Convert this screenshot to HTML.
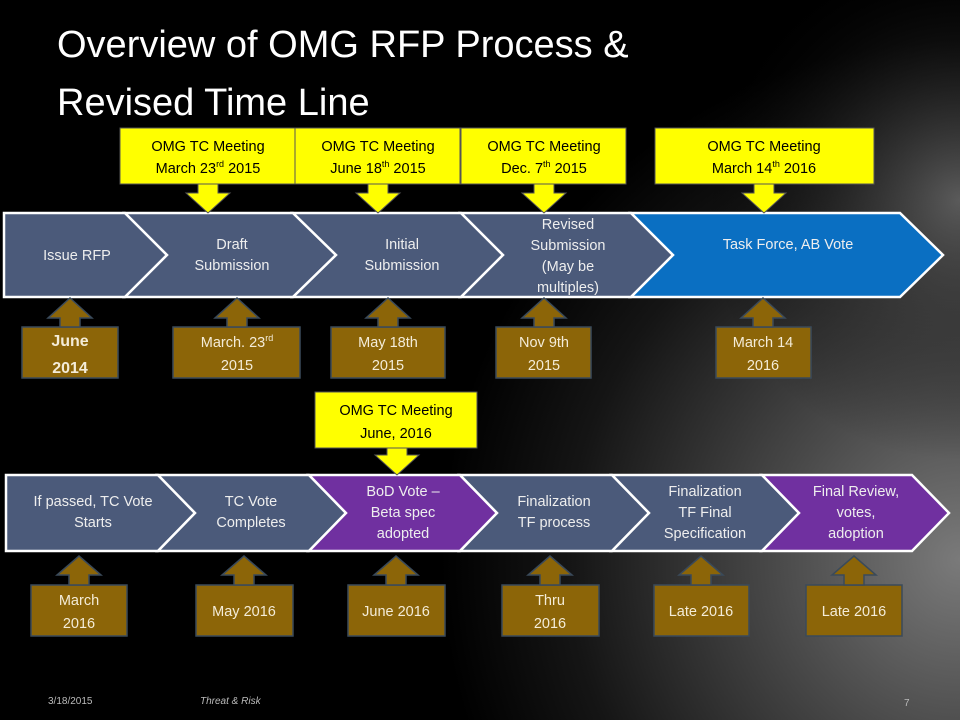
<!DOCTYPE html>
<html><head><meta charset="utf-8"><style>
html,body{margin:0;padding:0;background:#000;}
svg{display:block;font-family:"Liberation Sans",sans-serif;}
</style></head><body>
<svg width="960" height="720" viewBox="0 0 960 720" xmlns="http://www.w3.org/2000/svg">
<defs>
<radialGradient id="g1" cx="960" cy="560" r="520" gradientUnits="userSpaceOnUse">
<stop offset="0" stop-color="#7a7a7a"/><stop offset="0.35" stop-color="#4a4a4a"/><stop offset="0.75" stop-color="#151515"/><stop offset="1" stop-color="#000"/>
</radialGradient>
<radialGradient id="g3" cx="960" cy="200" r="260" gradientUnits="userSpaceOnUse">
<stop offset="0" stop-color="#6a6a6a" stop-opacity="0.8"/><stop offset="1" stop-color="#000" stop-opacity="0"/>
</radialGradient>
</defs>
<rect width="960" height="720" fill="url(#g1)"/>
<rect width="960" height="720" fill="url(#g3)"/>

<g fill="#fff" font-size="38">
<text x="57" y="57">Overview of OMG RFP Process &amp;</text>
<text x="57" y="115">Revised Time Line</text>
</g>

<!-- top band -->
<g stroke="#fff" stroke-width="2.5">
<polygon points="4,213 125,213 167,255 125,297 4,297" fill="#4b5a7a"/>
<polygon points="125,213 293,213 336,255 293,297 125,297 167,255" fill="#4b5a7a"/>
<polygon points="293,213 461,213 503,255 461,297 293,297 336,255" fill="#4b5a7a"/>
<polygon points="461,213 631,213 673,255 631,297 461,297 503,255" fill="#4b5a7a"/>
<polygon points="631,213 900,213 943,255 900,297 631,297 673,255" fill="#0a6fc2"/>
</g>
<g fill="#eee" font-size="14.5" text-anchor="middle">
<text x="77" y="260">Issue RFP</text>
<text x="232" y="249">Draft</text><text x="232" y="270">Submission</text>
<text x="402" y="249">Initial</text><text x="402" y="270">Submission</text>
<text x="568" y="229">Revised</text><text x="568" y="250">Submission</text><text x="568" y="271">(May be</text><text x="568" y="292">multiples)</text>
<text x="788" y="249">Task Force, AB Vote</text>
</g>

<!-- yellow top -->
<g fill="#ffff00" stroke="#555" stroke-width="1">
<rect x="120" y="128" width="175" height="56"/>
<rect x="295" y="128" width="165" height="56"/>
<rect x="461" y="128" width="165" height="56"/>
<rect x="655" y="128" width="219" height="56"/>
<polygon points="198,184 218,184 218,193 230,193 208,213 186,193 198,193"/>
<polygon points="368,184 388,184 388,193 400,193 378,213 356,193 368,193"/>
<polygon points="534,184 554,184 554,193 566,193 544,213 522,193 534,193"/>
<polygon points="754,184 774,184 774,193 786,193 764,213 742,193 754,193"/>
</g>
<g fill="#000" font-size="14.5" text-anchor="middle">
<text x="208" y="151">OMG TC Meeting</text><text x="208" y="173">March 23<tspan font-size="9" dy="-6">rd</tspan><tspan dy="6"> 2015</tspan></text>
<text x="378" y="151">OMG TC Meeting</text><text x="378" y="173">June 18<tspan font-size="9" dy="-6">th</tspan><tspan dy="6"> 2015</tspan></text>
<text x="544" y="151">OMG TC Meeting</text><text x="544" y="173">Dec. 7<tspan font-size="9" dy="-6">th</tspan><tspan dy="6"> 2015</tspan></text>
<text x="764" y="151">OMG TC Meeting</text><text x="764" y="173">March 14<tspan font-size="9" dy="-6">th</tspan><tspan dy="6"> 2016</tspan></text>
</g>

<!-- brown top -->
<g fill="#8c6508" stroke="#3a4a5a" stroke-width="1.5">
<rect x="22" y="327" width="96" height="51"/>
<rect x="173" y="327" width="127" height="51"/>
<rect x="331" y="327" width="114" height="51"/>
<rect x="496" y="327" width="95" height="51"/>
<rect x="716" y="327" width="95" height="51"/>
<polygon points="60,327 80,327 80,318 92,318 70,298 48,318 60,318"/>
<polygon points="227,327 247,327 247,318 259,318 237,298 215,318 227,318"/>
<polygon points="378,327 398,327 398,318 410,318 388,298 366,318 378,318"/>
<polygon points="534,327 554,327 554,318 566,318 544,298 522,318 534,318"/>
<polygon points="753,327 773,327 773,318 785,318 763,298 741,318 753,318"/>
</g>
<g fill="#f4ecd8" font-size="14.5" text-anchor="middle">
<text x="70" y="346" font-size="16" font-weight="bold">June</text><text x="70" y="373" font-size="16" font-weight="bold">2014</text>
<text x="237" y="347">March. 23<tspan font-size="9" dy="-6">rd</tspan></text><text x="237" y="370">2015</text>
<text x="388" y="347">May 18th</text><text x="388" y="370">2015</text>
<text x="544" y="347">Nov 9th</text><text x="544" y="370">2015</text>
<text x="763" y="347">March 14</text><text x="763" y="370">2016</text>
</g>

<!-- bottom band -->
<g stroke="#fff" stroke-width="2.5">
<polygon points="6,475 158,475 195,513 158,551 6,551" fill="#4b5a7a"/>
<polygon points="158,475 309,475 346,513 309,551 158,551 195,513" fill="#4b5a7a"/>
<polygon points="309,475 460,475 497,513 460,551 309,551 346,513" fill="#7030a0"/>
<polygon points="460,475 612,475 649,513 612,551 460,551 497,513" fill="#4b5a7a"/>
<polygon points="612,475 762,475 799,513 762,551 612,551 649,513" fill="#4b5a7a"/>
<polygon points="762,475 912,475 949,513 912,551 762,551 799,513" fill="#7030a0"/>
</g>
<g fill="#eee" font-size="14.5" text-anchor="middle">
<text x="93" y="506">If passed, TC Vote</text><text x="93" y="527">Starts</text>
<text x="251" y="506">TC Vote</text><text x="251" y="527">Completes</text>
<text x="403" y="496">BoD Vote –</text><text x="403" y="517">Beta spec</text><text x="403" y="538">adopted</text>
<text x="554" y="506">Finalization</text><text x="554" y="527">TF process</text>
<text x="705" y="496">Finalization</text><text x="705" y="517">TF Final</text><text x="705" y="538">Specification</text>
<text x="856" y="496">Final Review,</text><text x="856" y="517">votes,</text><text x="856" y="538">adoption</text>
</g>

<!-- yellow bottom -->
<g fill="#ffff00" stroke="#555" stroke-width="1">
<rect x="315" y="392" width="162" height="56"/>
<polygon points="387,448 407,448 407,455 419,455 397,475 375,455 387,455"/>
</g>
<g fill="#000" font-size="14.5" text-anchor="middle">
<text x="396" y="415">OMG TC Meeting</text><text x="396" y="438">June, 2016</text>
</g>

<!-- brown bottom -->
<g fill="#8c6508" stroke="#3a4a5a" stroke-width="1.5">
<rect x="31" y="585" width="96" height="51"/>
<rect x="196" y="585" width="97" height="51"/>
<rect x="348" y="585" width="97" height="51"/>
<rect x="502" y="585" width="97" height="51"/>
<rect x="654" y="585" width="95" height="51"/>
<rect x="806" y="585" width="96" height="51"/>
<polygon points="69,585 89,585 89,575 101,575 79,556 57,575 69,575"/>
<polygon points="234,585 254,585 254,575 266,575 244,556 222,575 234,575"/>
<polygon points="386,585 406,585 406,575 418,575 396,556 374,575 386,575"/>
<polygon points="540,585 560,585 560,575 572,575 550,556 528,575 540,575"/>
<polygon points="691,585 711,585 711,575 723,575 701,556 679,575 691,575"/>
<polygon points="844,585 864,585 864,575 876,575 854,556 832,575 844,575"/>
</g>
<g fill="#f4ecd8" font-size="14.5" text-anchor="middle">
<text x="79" y="605">March</text><text x="79" y="628">2016</text>
<text x="244" y="616">May 2016</text>
<text x="396" y="616">June 2016</text>
<text x="550" y="605">Thru</text><text x="550" y="628">2016</text>
<text x="701" y="616">Late 2016</text>
<text x="854" y="616">Late 2016</text>
</g>

<g fill="#bbb" font-size="10">
<text x="48" y="704">3/18/2015</text>
<text x="200" y="704" font-style="italic">Threat &amp; Risk</text>
<text x="904" y="706">7</text>
</g>
</svg>
</body></html>
